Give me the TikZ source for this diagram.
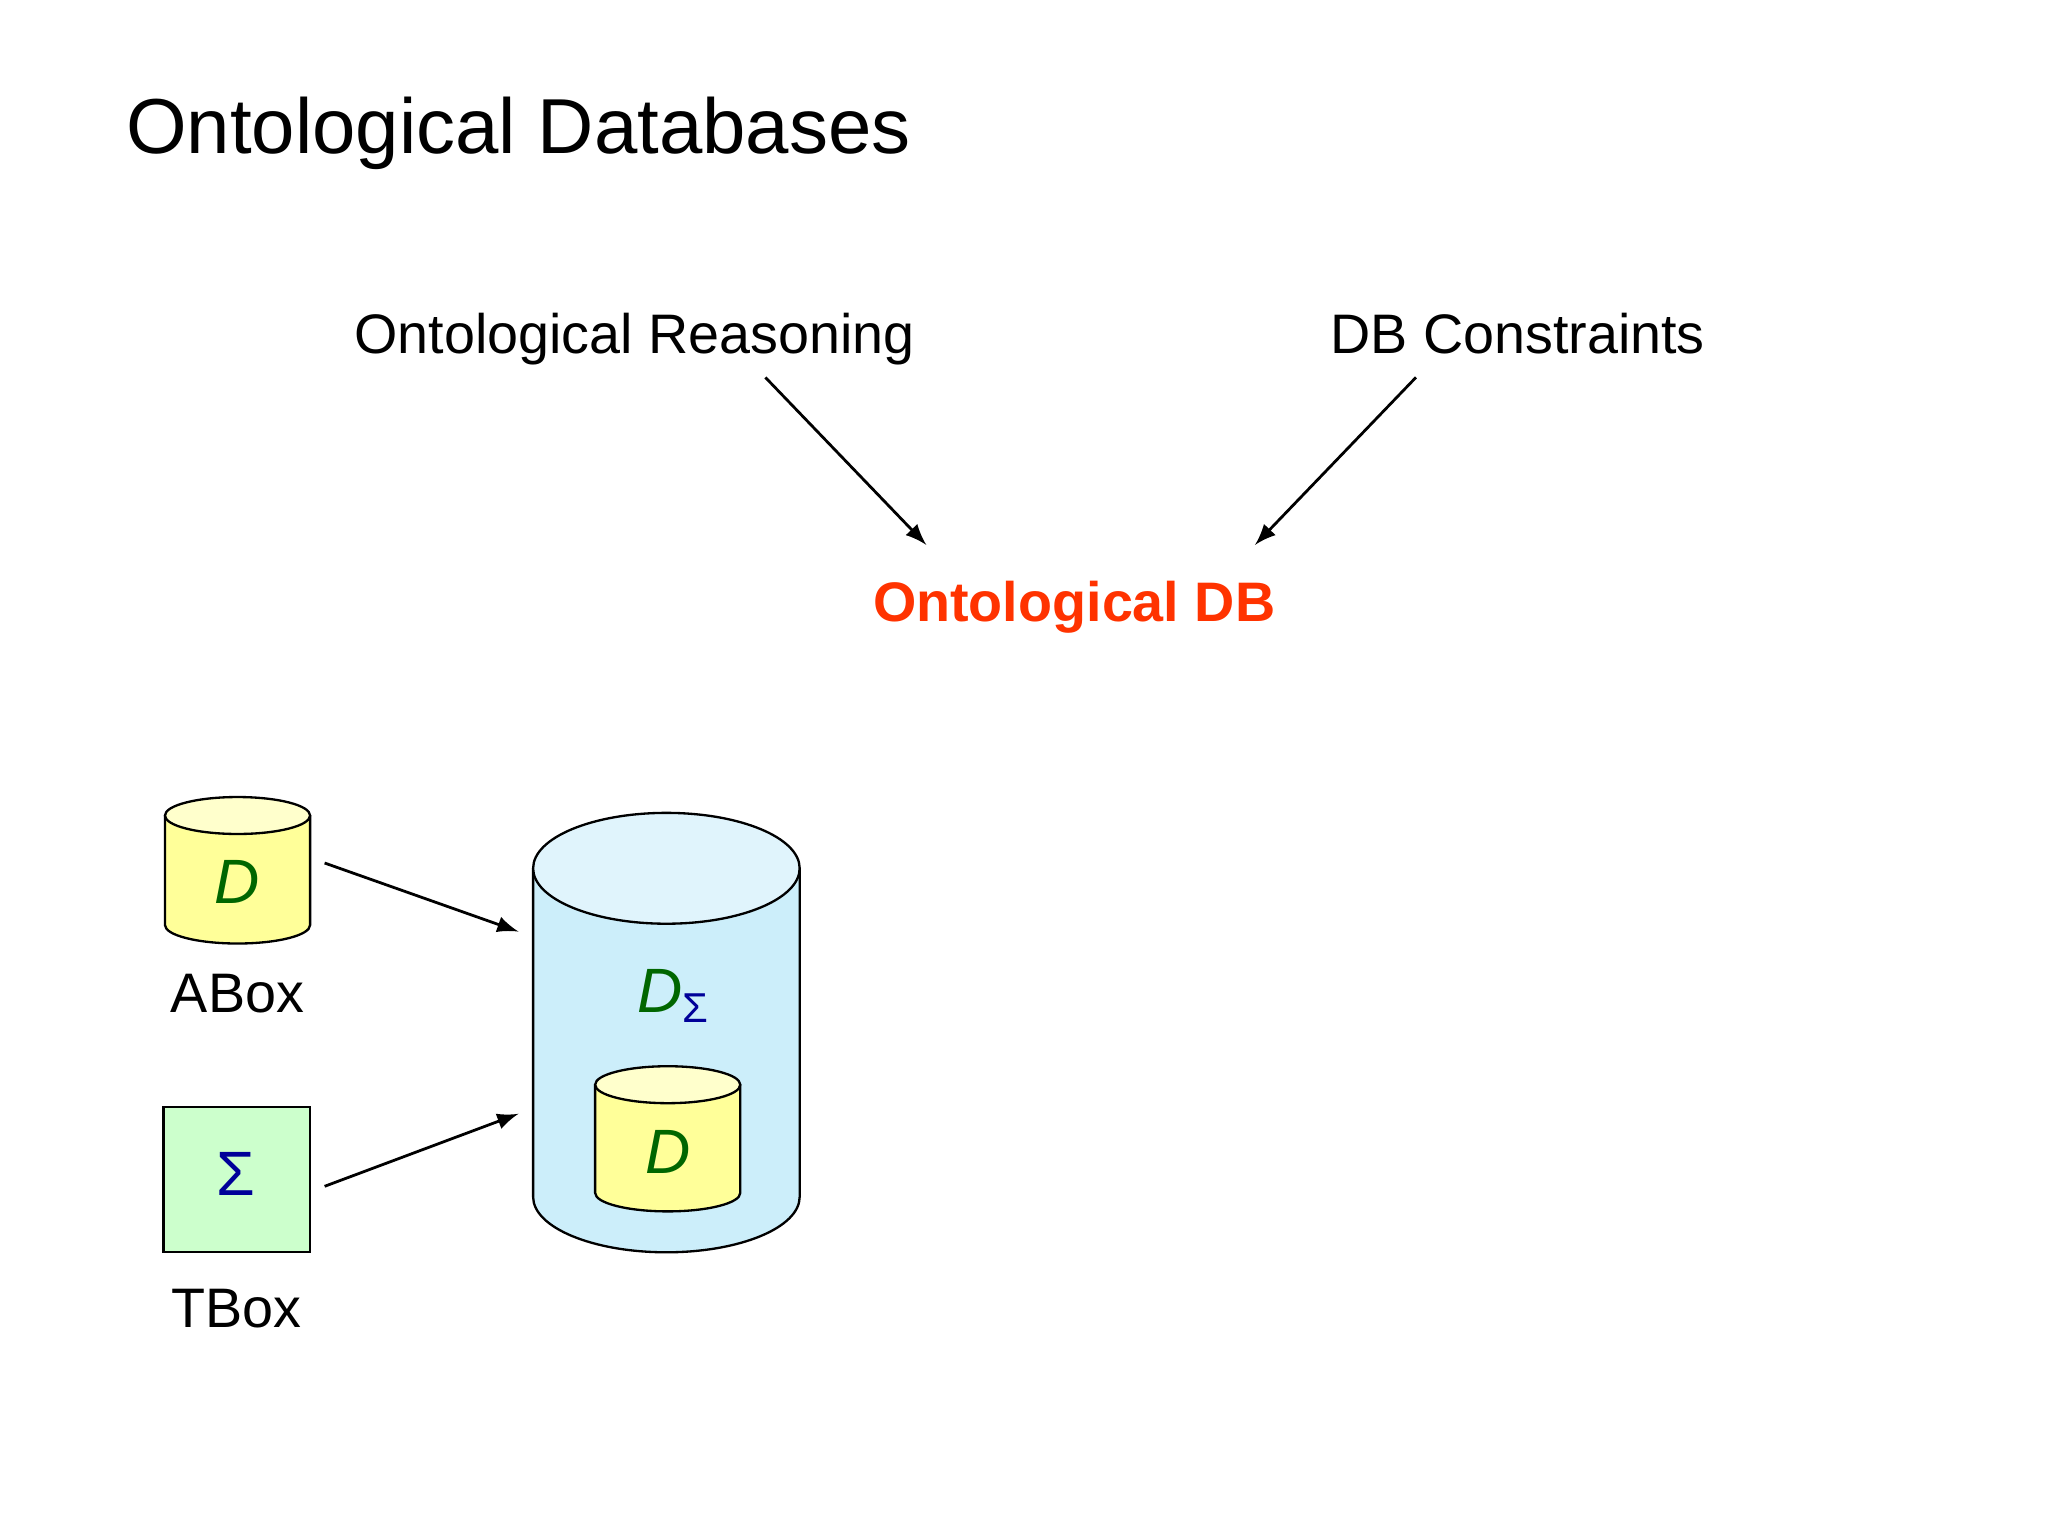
\documentclass[tikz,border=0pt]{standalone}
\usepackage{fontspec}
\setmainfont{Liberation Sans}
\begin{document}
\begin{tikzpicture}[x=0.01cm,y=-0.01cm,
  lbl/.style={inner sep=0pt,anchor=base},
  arr/.style={-latex,line width=0.6pt},
  cyl/.style={draw=black,line width=0.5pt}]
\useasboundingbox[fill=white] (0,0) rectangle (1552,1164);
\node[lbl,anchor=base west,font=\fontsize{16.8}{20}\selectfont] (title) at (95,116) {Ontological Databases};
\node[lbl,font=\fontsize{12}{14}\selectfont] (or) at (481,268) {Ontological Reasoning};
\node[lbl,font=\fontsize{12}{14}\selectfont] (dbc) at (1150,268) {DB Constraints};
\node[lbl,font=\bfseries\fontsize{12}{14}\selectfont,text={rgb,255:red,255;green,51;blue,0}] (odb) at (814,471) {Ontological DB};
\coordinate (a1) at (580,286); \coordinate (a2) at (702,413);
\coordinate (b1) at (1073,286); \coordinate (b2) at (951,413);
\draw[arr] (a1) -- (a2);
\draw[arr] (b1) -- (b2);
\definecolor{yel}{RGB}{255,255,153}
\definecolor{yeltop}{RGB}{255,255,204}
\definecolor{blu}{RGB}{204,238,250}
\definecolor{blutop}{RGB}{224,244,252}
\definecolor{grn}{RGB}{204,255,204}
\definecolor{dg}{RGB}{0,102,0}
\definecolor{db}{RGB}{0,0,153}
% ABox cylinder
\draw[cyl,fill=yel] (125,618) -- (125,701) arc[start angle=180,end angle=0,x radius=55,y radius=14] -- (235,618);
\draw[cyl,fill=yeltop] (180,618) ellipse[x radius=55,y radius=14];
\node[lbl,font=\itshape\fontsize{13.5}{16}\selectfont,text=dg] (d1) at (180,685) {D};
\node[lbl,font=\fontsize{12}{14}\selectfont] (abox) at (180,767) {ABox};
% TBox
\draw[cyl,fill=grn] (124,839) rectangle (235,949);
\node[lbl,font=\fontsize{13.5}{16}\selectfont,text=db] (s) at (179,906) {Σ};
\node[lbl,font=\fontsize{12}{14}\selectfont] (tbox) at (179,1006) {TBox};
% big cylinder
\draw[cyl,fill=blu] (404,658) -- (404,907) arc[start angle=180,end angle=0,x radius=101,y radius=42] -- (606,658);
\draw[cyl,fill=blutop] (505,658) ellipse[x radius=101,y radius=42];
\node[lbl,font=\fontsize{13.5}{16}\selectfont,text=dg] (ds) at (510,767) {\itshape D\textcolor{db}{\raisebox{-0.3ex}{\upshape\fontsize{9}{11}\selectfont Σ}}};
\draw[cyl,fill=yel] (451,822) -- (451,904) arc[start angle=180,end angle=0,x radius=55,y radius=14] -- (561,822);
\draw[cyl,fill=yeltop] (506,822) ellipse[x radius=55,y radius=14];
\node[lbl,font=\itshape\fontsize{13.5}{16}\selectfont,text=dg] (d2) at (506,889) {D};
\coordinate (c1) at (246,654); \coordinate (c2) at (393,706);
\coordinate (e1) at (246,899); \coordinate (e2) at (393,844);
\draw[arr] (c1) -- (c2);
\draw[arr] (e1) -- (e2);
\end{tikzpicture}
\end{document}
